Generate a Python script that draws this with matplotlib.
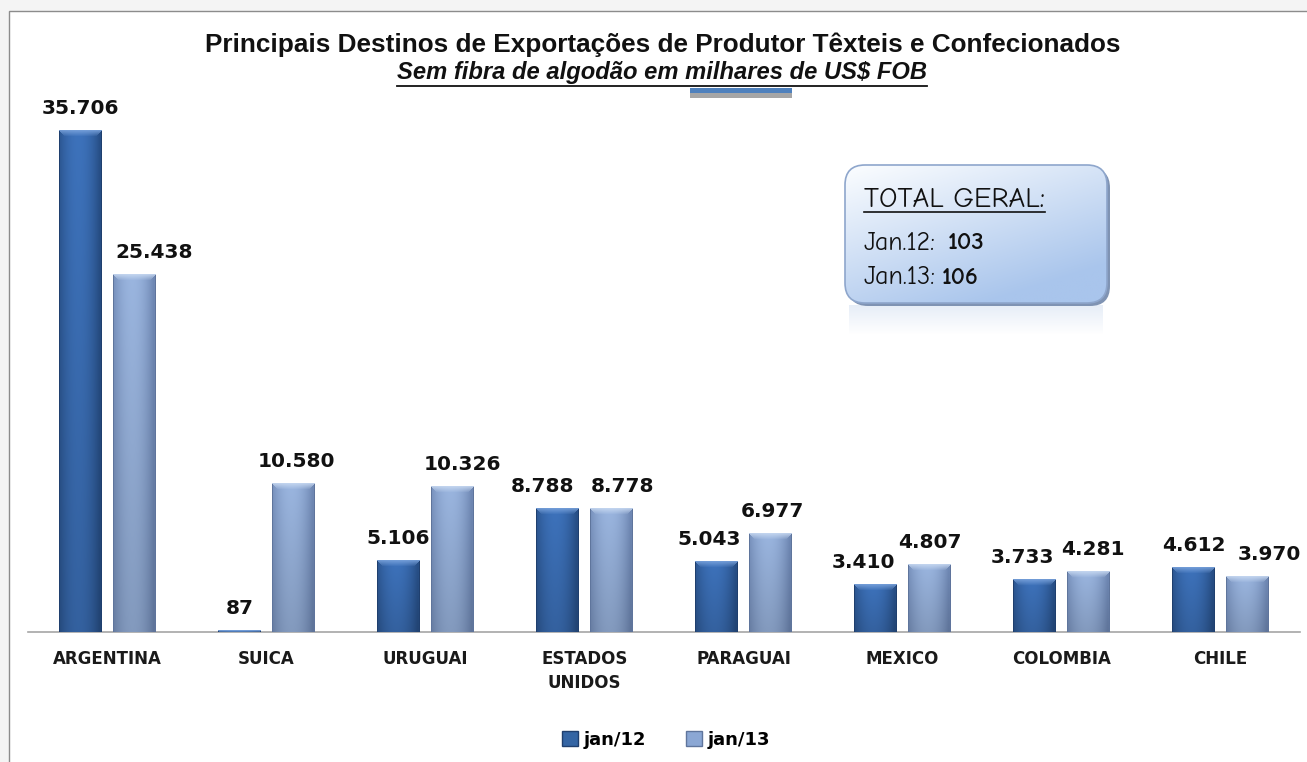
import numpy as np
import matplotlib
matplotlib.use('Agg')
import matplotlib.pyplot as plt
from matplotlib.patches import Rectangle, FancyBboxPatch, Patch
from matplotlib.colors import to_rgb

# dados (milhares de US$ FOB)
paises = ['ARGENTINA', 'SUICA', 'URUGUAI', 'ESTADOS\nUNIDOS', 'PARAGUAI',
          'MEXICO', 'COLOMBIA', 'CHILE']
jan12 = [35706, 87, 5106, 8788, 5043, 3410, 3733, 4612]
jan13 = [25438, 10580, 10326, 8778, 6977, 4807, 4281, 3970]
series = ['jan/12', 'jan/13']
total_rotulos = ['Jan.12:', 'Jan.13:']
total_valores = ['103', '106']

titulo = 'Principais Destinos de Exportações de Produtor Têxteis e Confecionados'
subtitulo = 'Sem fibra de algodão em milhares de US$ FOB'

# pequenos deslocamentos (px) dos rotulos, como no original
dx12 = [0, 0, 0, -15, -7, -12, -12, 0]
dx13 = [20, 3, 10, 11, 2, 0, 4, 22]

W, H = 1307, 762
fig = plt.figure(figsize=(W / 100, H / 100), dpi=100)
fig.patch.set_facecolor('#f4f4f4')

# camada de fundo em pixels
bg = fig.add_axes([0, 0, 1, 1], zorder=0)
bg.set_xlim(0, W)
bg.set_ylim(H, 0)
bg.axis('off')
bg.add_patch(Rectangle((9, 11), W + 20, H + 20, facecolor='white',
                       edgecolor='#8c8c8c', lw=1))

# eixo principal
ax_l, ax_r, ax_b, ax_t = 28, 1300, 632, 100
ax = fig.add_axes([ax_l / W, 1 - ax_b / H, (ax_r - ax_l) / W, (ax_b - ax_t) / H],
                  zorder=1)
ax.patch.set_alpha(0)
ymax = 37840
px_per_unit = (ax_b - ax_t) / ymax

x = np.arange(len(paises))
off, bw = 0.17, 0.27
b12 = ax.bar(x - off, jan12, bw, color='#3465a4', edgecolor='none', zorder=2)
b13 = ax.bar(x + off, jan13, bw, color='#8ba7d4', edgecolor='none', zorder=2)


def shade(bar, light, dark, bevel, edge):
    xb, w, h = bar.get_x(), bar.get_width(), bar.get_height()
    nr = max(int(round(h * px_per_unit)), 2)
    nc = 43
    u = np.linspace(0, 1, nc)
    t = 1 - (np.abs(u - 0.45) * 2.0) ** 2
    t = np.clip(t, 0, 1)
    light, dark, bevel, edge = map(lambda c: np.array(to_rgb(c)), (light, dark, bevel, edge))
    row = dark + (light - dark) * t[:, None]
    v = np.linspace(0, 1, nr)[:, None, None]
    img = row[None, :, :] * (1 - 0.15 * v)
    img[:, :1] = edge
    img[:, -1:] = edge
    nb = min(6, nr)
    for r in range(nb):
        a = 0.85 * (1 - r / nb)
        lo, hi = r, nc - r
        img[r, lo:hi] = img[r, lo:hi] * (1 - a) + bevel * a
    img = np.clip(img, 0, 1)
    ax.imshow(img, extent=(xb, xb + w, 0, h), aspect='auto', zorder=3,
              interpolation='bilinear', clip_path=bar, clip_on=True)


for bar in b12:
    shade(bar, '#3d72bb', '#285088', '#7aa3dc', '#1f3f6e')
for bar in b13:
    shade(bar, '#9ab5df', '#7089b5', '#c8d9f1', '#5f759c')


def fmt(v):
    return f'{v:,}'.replace(',', '.')


for bars, vals, dxs in ((b12, jan12, dx12), (b13, jan13, dx13)):
    for bar, v, d in zip(bars, vals, dxs):
        ax.annotate(fmt(v), (bar.get_x() + bar.get_width() / 2, bar.get_height()),
                    xytext=(d * 0.72, 9), textcoords='offset points',
                    ha='center', va='bottom', fontsize=14.5,
                    fontweight='bold', color='#111111', zorder=4)

ax.set_xlim(-0.5, 7.5)
ax.set_ylim(0, ymax)
for s in ('top', 'right', 'left'):
    ax.spines[s].set_visible(False)
ax.spines['bottom'].set_color('#a6a6a6')
ax.spines['bottom'].set_linewidth(1.2)
ax.set_yticks([])
ax.set_xticks(x)
ax.set_xticklabels(paises, fontsize=12, fontweight='bold', color='#1a1a1a',
                   linespacing=1.45)
ax.tick_params(axis='x', length=0, pad=13)

# titulo e subtitulo
fonte = ['Liberation Sans Narrow', 'Liberation Sans', 'DejaVu Sans']
rend = fig.canvas.get_renderer()


def fit(t, width_px):
    w = t.get_window_extent(rend).width
    t.set_fontsize(t.get_fontsize() * width_px / w)


tt = fig.text(663 / W, 1 - 45 / H, titulo, ha='center', va='center',
              fontsize=20, fontweight='bold', family=fonte, color='#111111')
fit(tt, 913)
st = fig.text(662 / W, 1 - 73 / H, subtitulo, ha='center', va='center',
              fontsize=16, fontweight='bold', style='italic', family=fonte,
              color='#111111')
fit(st, 530)
bb = st.get_window_extent(rend)
bg.plot([bb.x0, bb.x1], [86, 86], color='#111111', lw=1.3)
bg.add_patch(Rectangle((690, 88), 102, 5, facecolor='#4f81bd', edgecolor='none'))
bg.add_patch(Rectangle((690, 93), 102, 5, facecolor='#a6a6a6', edgecolor='none'))

# caixa TOTAL GERAL
bx0, by0, bx1, by1 = 845, 165, 1107, 303
refl = np.linspace(0.35, 0, 30)[:, None, None] * np.array(to_rgb('#b9cde9')) + \
    (1 - np.linspace(0.35, 0, 30)[:, None, None]) * np.ones(3)
refl = np.repeat(refl, 10, axis=1)
bg.imshow(refl, extent=(bx0 + 4, bx1 - 4, by1 + 32, by1 + 2), aspect='auto',
          zorder=1, interpolation='bilinear')
shadow = FancyBboxPatch((bx0 + 3, by0 + 3), bx1 - bx0, by1 - by0,
                        boxstyle='round,pad=0,rounding_size=20',
                        facecolor='#7f93b3', edgecolor='none', zorder=1.5)
bg.add_patch(shadow)
caixa = FancyBboxPatch((bx0, by0), bx1 - bx0, by1 - by0,
                       boxstyle='round,pad=0,rounding_size=20',
                       facecolor='none', edgecolor='#8ea6cc', lw=1.2, zorder=3)
bg.add_patch(caixa)
gx, gy = np.meshgrid(np.linspace(0, 1, 60), np.linspace(0, 1, 40))
g = np.clip(gx * 0.45 + gy * 0.75, 0, 1)[:, :, None]
grad = (1 - g) * np.array(to_rgb('#fbfdff')) + g * np.array(to_rgb('#a9c5ec'))
bg.imshow(grad, extent=(bx0, bx1, by1, by0), aspect='auto', zorder=2,
          interpolation='bilinear', clip_path=caixa, clip_on=True)

fc = ['Comic Neue', 'DejaVu Sans']
tg = bg.text(864, 200, 'TOTAL GERAL:', ha='left', va='center', fontsize=14,
             family=fc, color='#111111', zorder=4)
fit(tg, 182)
tb = tg.get_window_extent(rend)
bg.plot([tb.x0, tb.x1], [212, 212], color='#111111', lw=1.2, zorder=4)
for i, (r, v) in enumerate(zip(total_rotulos, total_valores)):
    yy = 243 + i * 35
    tr = bg.text(864, yy, r, ha='left', va='center', fontsize=14,
                 family=fc, color='#111111', zorder=4)
    fit(tr, 72)
    e = tr.get_window_extent(rend)
    tv = bg.text(e.x1 + (12 if i == 0 else 6), yy, v, ha='left', va='center',
                 fontsize=15, fontweight='bold', family=fc, color='#111111',
                 zorder=4)
    fit(tv, 37)

# legenda
handles = [Patch(facecolor='#3465a4', edgecolor='#1f3f6e'),
           Patch(facecolor='#8ba7d4', edgecolor='#5f759c')]
fig.legend(handles, series, loc='center', bbox_to_anchor=(666 / W, 1 - 740 / H),
           ncol=2, frameon=False, handlelength=0.9, handleheight=0.9,
           handletextpad=0.3, columnspacing=2.2,
           prop={'weight': 'bold', 'size': 13})

fig.savefig('out.png', dpi=100, facecolor=fig.get_facecolor())
